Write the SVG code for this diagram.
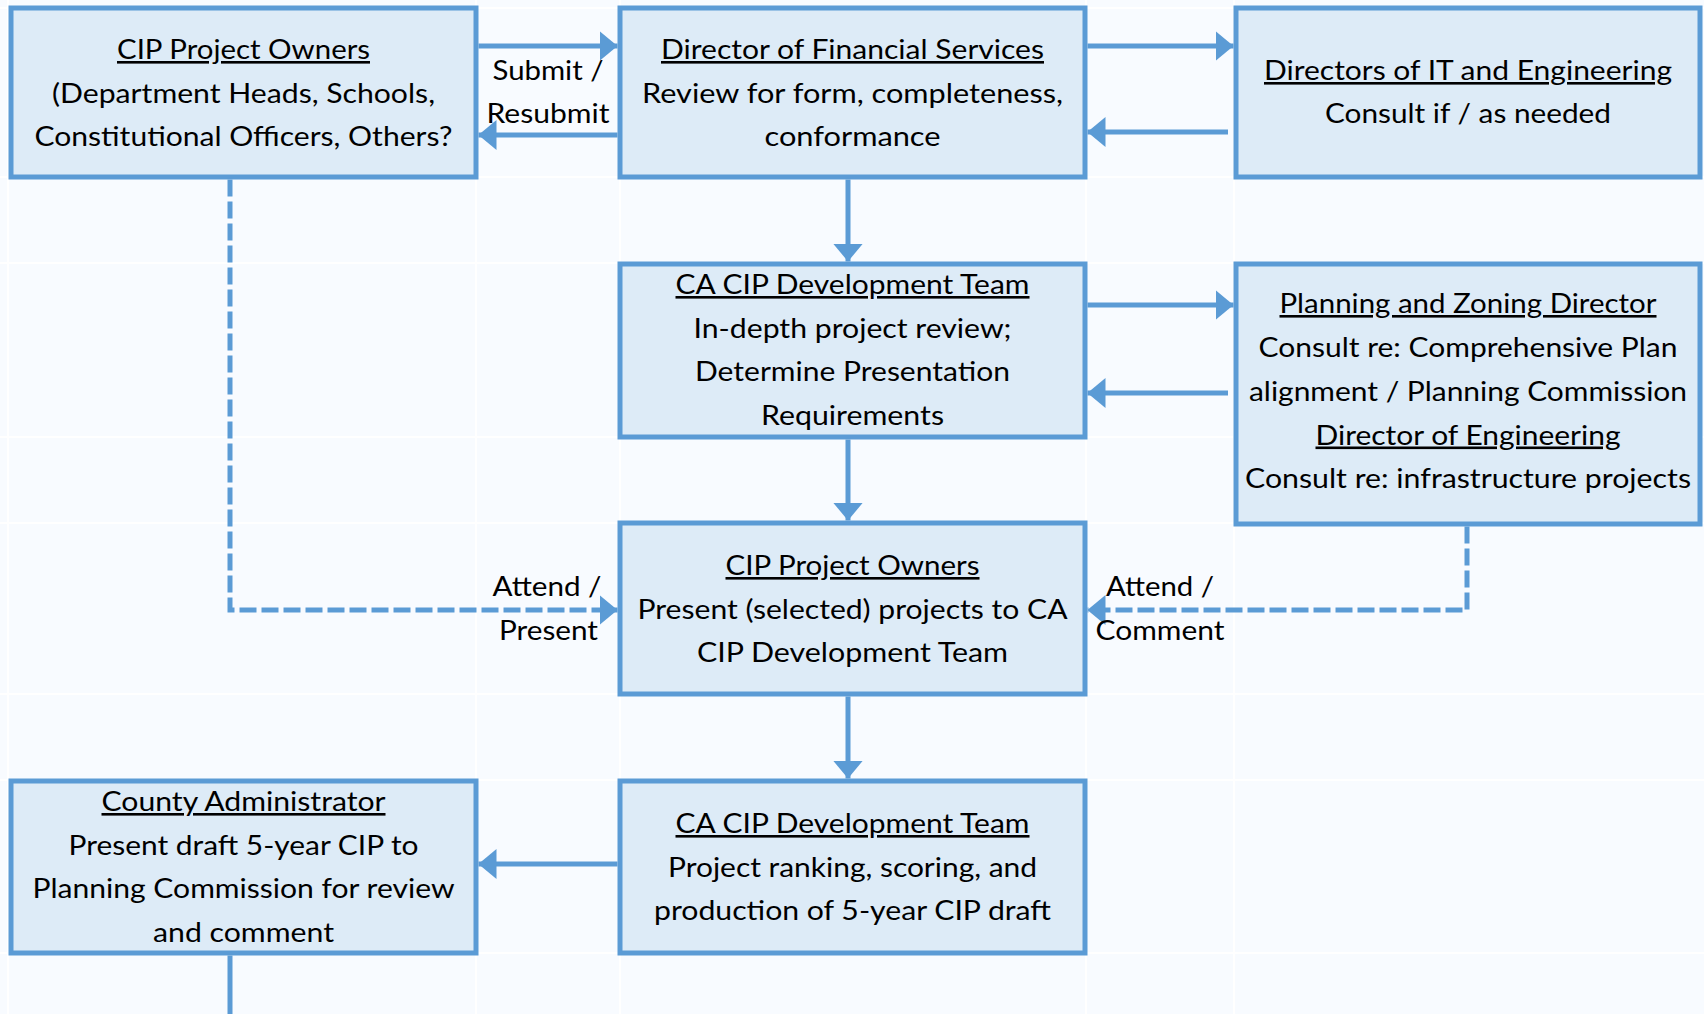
<svg xmlns="http://www.w3.org/2000/svg" width="1704" height="1014" viewBox="0 0 1704 1014">
<style>
  .bg { fill: #f8fbff; }
  .grid { stroke: #ffffff; stroke-width: 2; fill: none; }
  .box { fill: #ddebf7; stroke: #5b9bd5; stroke-width: 5; }
  .t { font-family: Lato, "Open Sans", "Liberation Sans", sans-serif; font-size: 26px; fill: #000000; text-anchor: middle; }
  .u { text-decoration: underline; }
  .c { fill: none; stroke: #5b9bd5; stroke-width: 5; }
  .d { stroke-dasharray: 17 5; }
</style>
<defs>
  <marker id="ah" markerUnits="userSpaceOnUse" markerWidth="18" markerHeight="30" refX="18" refY="15" orient="auto">
    <path d="M0,0 L18,15 L0,30 Z" fill="#5b9bd5"/>
  </marker>
</defs>
<rect class="bg" x="0" y="0" width="1704" height="1014"/>
<g id="grid" class="grid">
  <path d="M8,0 V1014 M476,0 V1014 M620,0 V1014 M1086,0 V1014 M1234,0 V1014"/>
  <path d="M0,8 H1704 M0,177 H1704 M0,263 H1704 M0,437 H1704 M0,523 H1704 M0,694 H1704 M0,780 H1704 M0,953 H1704"/>
</g>

<g id="connectors">
  <path class="c" d="M478.5,46 H617.5" marker-end="url(#ah)"/>
  <path class="c" d="M617.5,135 H478.5" marker-end="url(#ah)"/>
  <path class="c" d="M1087.5,46 H1233.5" marker-end="url(#ah)"/>
  <path class="c" d="M1228,132 H1087.5" marker-end="url(#ah)"/>
  <path class="c" d="M848,179.5 V261.5" marker-end="url(#ah)"/>
  <path class="c" d="M1087.5,305 H1233.5" marker-end="url(#ah)"/>
  <path class="c" d="M1228,393 H1087.5" marker-end="url(#ah)"/>
  <path class="c" d="M848,439.5 V520.5" marker-end="url(#ah)"/>
  <path class="c d" d="M230,179.5 V610 H617.5" marker-end="url(#ah)"/>
  <path class="c d" d="M1467,526.5 V610 H1087.5" marker-end="url(#ah)"/>
  <path class="c" d="M848,696.5 V778.5" marker-end="url(#ah)"/>
  <path class="c" d="M617.5,864 H478.5" marker-end="url(#ah)"/>
  <path class="c" d="M230,955.5 V1014"/>
  <text class="t" x="548" y="80" textLength="111" lengthAdjust="spacingAndGlyphs">Submit /</text>
  <text class="t" x="548" y="122.5" textLength="123" lengthAdjust="spacingAndGlyphs">Resubmit</text>
  <text class="t" x="547" y="596" textLength="109" lengthAdjust="spacingAndGlyphs">Attend /</text>
  <text class="t" x="548.5" y="639.5" textLength="99" lengthAdjust="spacingAndGlyphs">Present</text>
  <text class="t" x="1160" y="596" textLength="108" lengthAdjust="spacingAndGlyphs">Attend /</text>
  <text class="t" x="1160" y="639.5" textLength="129" lengthAdjust="spacingAndGlyphs">Comment</text>
</g>

<g id="node-owners">
  <rect class="box" x="11" y="8" width="465" height="169"/>
  <text class="t u" x="243.5" y="59" textLength="253" lengthAdjust="spacingAndGlyphs">CIP Project Owners</text>
  <text class="t" x="243.5" y="102.5" textLength="383" lengthAdjust="spacingAndGlyphs">(Department Heads, Schools,</text>
  <text class="t" x="243.5" y="146" textLength="418" lengthAdjust="spacingAndGlyphs">Constitutional Officers, Others?</text>
</g>

<g id="node-dfs">
  <rect class="box" x="620" y="8" width="465" height="169"/>
  <text class="t u" x="852.5" y="59" textLength="383" lengthAdjust="spacingAndGlyphs">Director of Financial Services</text>
  <text class="t" x="852.5" y="102.5" textLength="421" lengthAdjust="spacingAndGlyphs">Review for form, completeness,</text>
  <text class="t" x="852.5" y="146" textLength="176" lengthAdjust="spacingAndGlyphs">conformance</text>
</g>

<g id="node-it">
  <rect class="box" x="1236" y="8" width="464" height="169"/>
  <text class="t u" x="1468" y="80" textLength="408" lengthAdjust="spacingAndGlyphs">Directors of IT and Engineering</text>
  <text class="t" x="1468" y="123" textLength="286" lengthAdjust="spacingAndGlyphs">Consult if / as needed</text>
</g>

<g id="node-team1">
  <rect class="box" x="620" y="264" width="465" height="173"/>
  <text class="t u" x="852.5" y="294" textLength="354" lengthAdjust="spacingAndGlyphs">CA CIP Development Team</text>
  <text class="t" x="852.5" y="337.5" textLength="318" lengthAdjust="spacingAndGlyphs">In-depth project review;</text>
  <text class="t" x="852.5" y="381" textLength="315" lengthAdjust="spacingAndGlyphs">Determine Presentation</text>
  <text class="t" x="852.5" y="424.5" textLength="183" lengthAdjust="spacingAndGlyphs">Requirements</text>
</g>

<g id="node-planning">
  <rect class="box" x="1236" y="264" width="464" height="260"/>
  <text class="t u" x="1468" y="313" textLength="377" lengthAdjust="spacingAndGlyphs">Planning and Zoning Director</text>
  <text class="t" x="1468" y="357" textLength="419" lengthAdjust="spacingAndGlyphs">Consult re: Comprehensive Plan</text>
  <text class="t" x="1468" y="401" textLength="438" lengthAdjust="spacingAndGlyphs">alignment / Planning Commission</text>
  <text class="t u" x="1468" y="444.5" textLength="305" lengthAdjust="spacingAndGlyphs">Director of Engineering</text>
  <text class="t" x="1468" y="488" textLength="446" lengthAdjust="spacingAndGlyphs">Consult re: infrastructure projects</text>
</g>

<g id="node-present">
  <rect class="box" x="620" y="523" width="465" height="171"/>
  <text class="t u" x="852.5" y="575" textLength="254" lengthAdjust="spacingAndGlyphs">CIP Project Owners</text>
  <text class="t" x="852.5" y="618.5" textLength="430" lengthAdjust="spacingAndGlyphs">Present (selected) projects to CA</text>
  <text class="t" x="852.5" y="662" textLength="311" lengthAdjust="spacingAndGlyphs">CIP Development Team</text>
</g>

<g id="node-county">
  <rect class="box" x="11" y="781" width="465" height="172"/>
  <text class="t u" x="243.5" y="811" textLength="284" lengthAdjust="spacingAndGlyphs">County Administrator</text>
  <text class="t" x="243.5" y="854.5" textLength="350" lengthAdjust="spacingAndGlyphs">Present draft 5-year CIP to</text>
  <text class="t" x="243.5" y="898" textLength="422" lengthAdjust="spacingAndGlyphs">Planning Commission for review</text>
  <text class="t" x="243.5" y="941.5" textLength="181" lengthAdjust="spacingAndGlyphs">and comment</text>
</g>

<g id="node-team2">
  <rect class="box" x="620" y="781" width="465" height="172"/>
  <text class="t u" x="852.5" y="833" textLength="354" lengthAdjust="spacingAndGlyphs">CA CIP Development Team</text>
  <text class="t" x="852.5" y="876.5" textLength="369" lengthAdjust="spacingAndGlyphs">Project ranking, scoring, and</text>
  <text class="t" x="852.5" y="920" textLength="397" lengthAdjust="spacingAndGlyphs">production of 5-year CIP draft</text>
</g>
</svg>
